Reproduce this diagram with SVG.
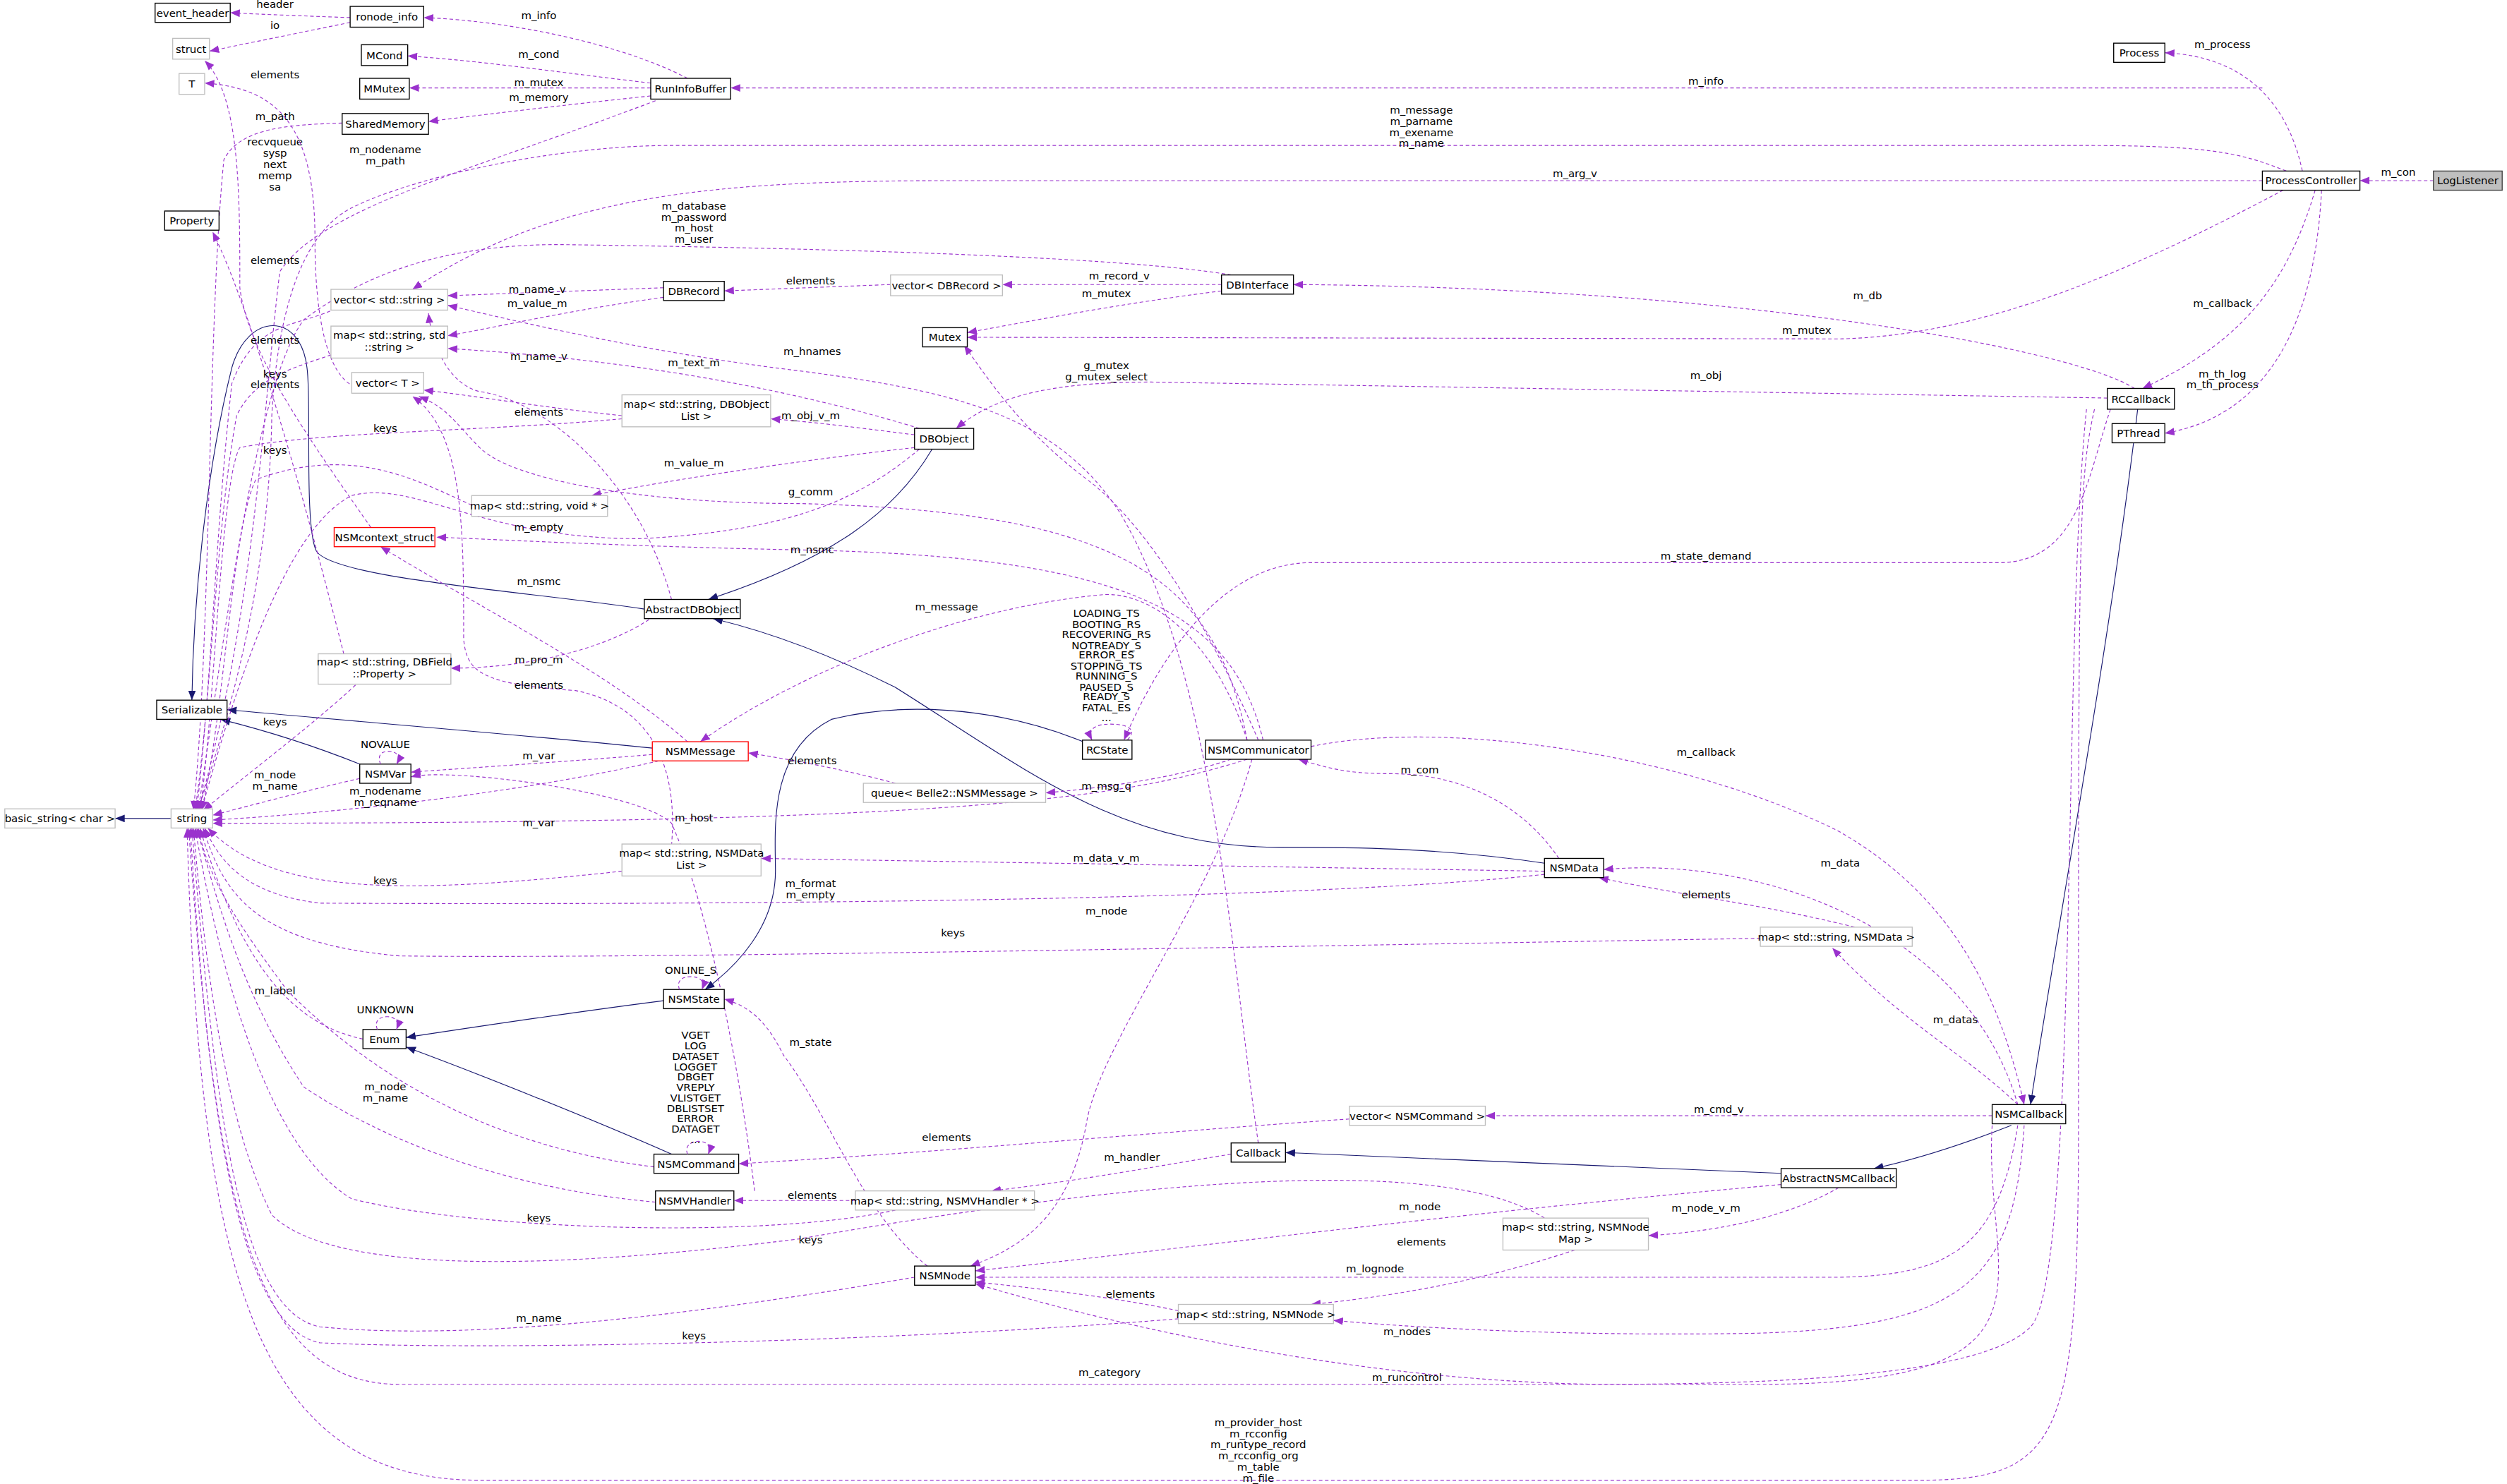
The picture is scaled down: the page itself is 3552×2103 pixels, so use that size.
<svg xmlns="http://www.w3.org/2000/svg" width="3552" height="2103" viewBox="0 0 3552 2103">
<style>
rect{fill:#fff;stroke:#000;stroke-width:0.6}
.g rect{stroke:#bfbfbf}
.r rect{stroke:#f00}
.f rect{fill:#bfbfbf;stroke:#404040}
text{font-family:"DejaVu Sans","Liberation Sans",sans-serif;font-size:6.6px;text-anchor:middle;fill:#000}
.e path{fill:none;stroke:#9a32cd;stroke-width:0.5;stroke-dasharray:2.2,1.6;marker-end:url(#ap)}
.i path{fill:none;stroke:#191970;stroke-width:0.5;marker-end:url(#an)}
</style>
<defs>
<marker id="ap" markerUnits="userSpaceOnUse" markerWidth="6" markerHeight="5" refX="5" refY="2" orient="auto" viewBox="0 0 5 4"><path d="M0,0L5,2L0,4z" fill="#9a32cd"/></marker>
<marker id="an" markerUnits="userSpaceOnUse" markerWidth="6" markerHeight="5" refX="5" refY="2" orient="auto" viewBox="0 0 5 4"><path d="M0,0L5,2L0,4z" fill="#191970"/></marker>
</defs>
<rect x="0" y="0" width="3552" height="2103" style="fill:#fff;stroke:none"/>
<g transform="scale(2.2653)">
<g id="edges">
<g class="i">
<path d="M107,512 L72,512"/>
<path d="M403,381 C330,370 210,362 198,345 C190,330 195,250 192,230 C188,195 155,195 145,230 C130,290 121,370 120,438"/>
<path d="M583,281 C560,320 520,350 443,375"/>
<path d="M408,468 C330,460 230,452 142,444"/>
<path d="M225,478 C200,468 170,458 138,450"/>
<path d="M966,540 C900,530 840,530 800,530 C700,530 640,480 560,430 C520,410 480,395 446,387"/>
<path d="M415,626 C360,633 300,642 254,649"/>
<path d="M420,722 C370,700 300,672 254,655"/>
<path d="M680,465 C620,440 560,440 520,450 C480,470 485,520 485,545 C485,580 460,605 441,619"/>
<path d="M1114,734 C1000,730 900,725 804,721"/>
<path d="M1258,704 C1230,715 1200,725 1172,731"/>
<path d="M1337,256 C1320,400 1290,560 1270,691"/>
</g>
<g class="e">
<path d="M219,11 C190,10 165,9 144,8"/><text x="172" y="5">header</text>
<path d="M219,14 C190,20 160,26 131,32"/><text x="172" y="18">io</text>
<path d="M430,49 C390,28 320,13 265,11"/><text x="337" y="12">m_info</text>
<path d="M407,52 C340,44 300,38 255,35"/><text x="337" y="36">m_cond</text>
<path d="M407,55 L256,55"/><text x="337" y="54">m_mutex</text>
<path d="M407,60 C350,66 300,72 268,76"/><text x="337" y="63">m_memory</text>
<path d="M410,63 C300,105 200,130 175,170 C165,250 160,380 124,507"/><text x="241" y="96">m_nodename</text><text x="241" y="103">m_path</text>
<path d="M214,77 C180,78 150,80 140,100 C130,200 132,400 121,507"/><text x="172" y="75">m_path</text>
<path d="M232,330 C190,270 155,220 150,180 C150,120 150,60 128,38"/><text x="172" y="91">recvqueue</text><text x="172" y="98">sysp</text><text x="172" y="105">next</text><text x="172" y="112">memp</text><text x="172" y="119">sa</text>
<path d="M222,242 C205,235 197,200 197,150 C197,80 175,55 128,52"/><text x="172" y="49">elements</text>
<path d="M215,409 C195,330 160,200 133,145"/><text x="172" y="165">elements</text>
<path d="M210,193 C185,205 160,200 145,240 C135,330 132,430 123,507"/><text x="172" y="215">elements</text>
<path d="M207,222 C185,230 160,235 148,260 C135,330 132,440 122,507"/><text x="172" y="236">keys</text><text x="172" y="243">elements</text>
<path d="M389,262 C300,270 200,270 150,280 C138,300 134,450 125,507"/><text x="241" y="270">keys</text>
<path d="M295,316 C260,300 220,278 160,300 C145,330 140,450 126,507"/><text x="172" y="284">keys</text>
<path d="M225,426 C200,450 160,480 127,507"/><text x="172" y="454">keys</text>
<path d="M225,487 C190,495 160,503 133,510"/><text x="172" y="487">m_node</text><text x="172" y="494">m_name</text>
<path d="M412,476 C330,495 220,508 133,513"/><text x="241" y="497">m_nodename</text><text x="241" y="504">m_reqname</text>
<path d="M780,475 C700,500 600,515 133,515"/><text x="434" y="514">m_host</text>
<path d="M389,545 C250,560 170,560 130,518"/><text x="241" y="553">keys</text>
<path d="M966,547 C800,565 400,566 200,565 C160,560 140,545 128,518"/><text x="507" y="555">m_format</text><text x="507" y="562">m_empty</text>
<path d="M1101,587 C800,592 400,600 250,598 C160,590 140,560 127,518"/><text x="596" y="586">keys</text>
<path d="M227,650 C180,640 150,600 125,518"/><text x="172" y="622">m_label</text>
<path d="M409,730 C330,720 250,690 180,620 C150,580 130,550 124,518"/><text x="241" y="682">m_node</text><text x="241" y="689">m_name</text>
<path d="M410,752 C330,745 250,720 190,680 C150,620 135,560 123,518"/>
<path d="M560,757 C480,775 300,770 220,750 C170,720 140,620 122,518"/><text x="337" y="764">keys</text>
<path d="M966,762 C900,720 700,740 500,775 C300,800 200,790 170,760 C140,700 128,600 121,518"/><text x="507" y="778">keys</text>
<path d="M572,799 C450,820 300,840 200,830 C150,820 135,700 120,518"/><text x="337" y="827">m_name</text>
<path d="M737,825 C550,840 300,845 200,840 C150,830 130,700 119,518"/><text x="434" y="838">keys</text>
<path d="M1246,704 C1240,800 1300,866 1100,866 L250,866 C160,866 135,760 118,518"/><text x="694" y="861">m_category</text>
<path d="M1310,256 C1300,300 1300,330 1300,700 C1300,900 1290,926 1200,926 L300,926 C160,926 125,800 117,518"/><text x="787" y="892">m_provider_host</text><text x="787" y="899">m_rcconfig</text><text x="787" y="906">m_runtype_record</text><text x="787" y="913">m_rcconfig_org</text><text x="787" y="920">m_table</text><text x="787" y="927">m_file</text>
<path d="M770,172 C700,160 500,155 350,153 C280,153 230,170 190,200 C160,240 140,400 124,507"/><text x="434" y="131">m_database</text><text x="434" y="138">m_password</text><text x="434" y="145">m_host</text><text x="434" y="152">m_user</text>
<path d="M1430,107 C1400,95 1380,91 1300,91 L420,91 C350,91 260,110 220,130 C200,140 175,170 170,260 C168,380 135,470 124,507"/><text x="889" y="71">m_message</text><text x="889" y="78">m_parname</text><text x="889" y="85">m_exename</text><text x="889" y="92">m_name</text>
<path d="M1415,113 L600,113 C450,113 350,120 258,181"/><text x="985" y="111">m_arg_v</text>
<path d="M1415,55 L457,55"/><text x="1067" y="53">m_info</text>
<path d="M1440,107 C1430,60 1400,35 1354,33"/><text x="1390" y="30">m_process</text>
<path d="M1448,119 C1430,180 1400,215 1340,243"/><text x="1390" y="192">m_callback</text>
<path d="M1452,119 C1448,200 1420,260 1354,271"/><text x="1390" y="236">m_th_log</text><text x="1390" y="243">m_th_process</text>
<path d="M1522,113 L1476,113"/><text x="1500" y="110">m_con</text>
<path d="M1428,119 C1350,160 1250,210 1150,212 L605,211"/><text x="1130" y="209">m_mutex</text>
<path d="M1335,243 C1300,220 1100,180 809,178"/><text x="1168" y="187">m_db</text>
<path d="M764,178 L627,178"/><text x="700" y="175">m_record_v</text>
<path d="M764,182 C700,190 650,200 605,208"/><text x="692" y="186">m_mutex</text>
<path d="M557,178 L453,182"/><text x="507" y="178">elements</text>
<path d="M415,180 L280,185"/><text x="336" y="183">m_name_v</text>
<path d="M415,186 C350,195 310,205 280,210"/><text x="336" y="192">m_value_m</text>
<path d="M420,375 C400,300 340,250 300,245 C280,240 270,215 268,196"/><text x="337" y="225">m_name_v</text>
<path d="M575,268 C500,245 400,225 280,218"/><text x="434" y="229">m_text_m</text>
<path d="M572,272 C540,268 510,264 482,262"/><text x="507" y="262">m_obj_v_m</text>
<path d="M572,280 C500,288 420,300 370,310"/><text x="434" y="292">m_value_m</text>
<path d="M575,281 C540,310 500,332 400,337 C300,337 260,300 220,310 C180,330 150,420 126,507"/><text x="337" y="332">m_empty</text>
<path d="M1318,249 L720,239 C650,239 620,250 598,268"/><text x="1067" y="237">m_obj</text>
<path d="M787,463 C760,400 720,330 680,300 C640,270 620,240 603,216"/><text x="692" y="231">g_mutex</text><text x="692" y="238">g_mutex_select</text>
<path d="M780,463 C760,360 700,320 500,315 C400,315 320,300 300,280 C285,265 280,255 262,248"/><text x="507" y="310">g_comm</text>
<path d="M389,260 C340,255 300,248 265,244"/><text x="337" y="260">elements</text>
<path d="M420,529 C425,470 400,440 360,432 C300,428 292,420 290,400 C290,330 290,270 258,248"/><text x="337" y="431">elements</text>
<path d="M420,375 C400,400 340,418 282,418"/><text x="337" y="415">m_pro_m</text>
<path d="M790,463 C770,380 700,348 500,344 C400,342 320,338 273,336"/><text x="508" y="346">m_nsmc</text>
<path d="M430,464 C380,420 300,380 238,342"/><text x="337" y="366">m_nsmc</text>
<path d="M1320,256 C1305,300 1300,352 1250,352 L820,352 C770,352 730,400 703,463"/><text x="1067" y="350">m_state_demand</text>
<path d="M705,463 C712,456 705,453 694,453 C684,453 680,457 683,463"/><text x="692" y="386">LOADING_TS</text><text x="692" y="393">BOOTING_RS</text><text x="692" y="399">RECOVERING_RS</text><text x="692" y="406">NOTREADY_S</text><text x="692" y="412">ERROR_ES</text><text x="692" y="419">STOPPING_TS</text><text x="692" y="425">RUNNING_S</text><text x="692" y="432">PAUSED_S</text><text x="692" y="438">READY_S</text><text x="692" y="445">FATAL_ES</text><text x="692" y="451">...</text>
<path d="M780,463 C760,400 720,370 690,372 C600,380 500,420 438,464"/><text x="592" y="382">m_message</text>
<path d="M770,475 C740,485 700,492 654,496"/><text x="692" y="494">m_msg_q</text>
<path d="M560,490 C530,482 500,476 468,471"/><text x="508" y="478">elements</text>
<path d="M408,472 C360,476 300,480 257,483"/><text x="337" y="475">m_var</text>
<path d="M472,745 C460,650 440,560 420,515 C400,495 280,480 257,486"/><text x="337" y="517">m_var</text>
<path d="M783,475 C760,560 690,650 680,700 C670,760 640,780 607,792"/><text x="692" y="572">m_node</text>
<path d="M975,537 C950,500 910,484 870,484 C840,484 830,480 812,475"/><text x="888" y="484">m_com</text>
<path d="M820,467 C900,450 1050,470 1150,520 C1220,560 1250,620 1266,691"/><text x="1067" y="473">m_callback</text>
<path d="M1262,691 C1230,580 1100,535 1003,544"/><text x="1151" y="542">m_data</text>
<path d="M1160,580 C1100,565 1050,560 1000,549"/><text x="1067" y="562">elements</text>
<path d="M1262,691 C1230,660 1190,640 1146,593"/><text x="1223" y="640">m_datas</text>
<path d="M966,545 L476,537"/><text x="692" y="539">m_data_v_m</text>
<path d="M580,792 C540,760 520,700 490,660 C480,640 470,630 453,625"/><text x="507" y="654">m_state</text>
<path d="M1246,698 L929,698"/><text x="1075" y="696">m_cmd_v</text>
<path d="M844,700 C700,710 600,720 462,728"/><text x="592" y="714">elements</text>
<path d="M535,751 L459,751"/><text x="508" y="750">elements</text>
<path d="M770,722 C720,730 680,738 620,745"/><text x="708" y="726">m_handler</text>
<path d="M787,715 C770,600 760,420 700,320 C660,260 600,245 500,232 C400,220 320,200 280,191"/><text x="508" y="222">m_hnames</text>
<path d="M1114,741 C900,760 750,780 610,795"/><text x="888" y="757">m_node</text>
<path d="M1150,743 C1120,760 1080,770 1031,773"/><text x="1067" y="758">m_node_v_m</text>
<path d="M985,782 C930,800 880,810 820,816"/><text x="889" y="779">elements</text>
<path d="M1262,704 C1250,780 1220,798 1150,799 L610,799"/><text x="860" y="796">m_lognode</text>
<path d="M737,820 C700,812 650,806 610,802"/><text x="707" y="812">elements</text>
<path d="M1266,704 C1260,800 1230,830 1100,834 C1000,836 900,832 834,826"/><text x="880" y="835">m_nodes</text>
<path d="M1305,256 C1290,400 1300,800 1270,830 C1240,862 1100,866 1000,866 C850,864 700,830 610,803"/><text x="880" y="864">m_runcontrol</text>
</g>
</g>
<g id="n_event_header"><rect x="97" y="2" width="47" height="12"/><text x="120.5" y="10.4">event_header</text></g>
<g id="n_ronode_info"><rect x="219" y="4" width="46" height="13"/><text x="242" y="12.9">ronode_info</text></g>
<g id="n_struct" class="g"><rect x="108" y="24" width="23" height="13"/><text x="119.5" y="32.9">struct</text></g>
<g id="n_T" class="g"><rect x="112" y="46" width="16" height="13"/><text x="120" y="54.9">T</text></g>
<g id="n_MCond"><rect x="226" y="28" width="29" height="13"/><text x="240.5" y="36.9">MCond</text></g>
<g id="n_MMutex"><rect x="225" y="49" width="31" height="13"/><text x="240.5" y="57.9">MMutex</text></g>
<g id="n_SharedMemory"><rect x="214" y="71" width="54" height="13"/><text x="241" y="79.9">SharedMemory</text></g>
<g id="n_RunInfoBuffer"><rect x="407" y="49" width="50" height="13"/><text x="432" y="57.9">RunInfoBuffer</text></g>
<g id="n_Property"><rect x="103" y="132" width="34" height="12"/><text x="120" y="140.4">Property</text></g>
<g id="n_vector_string" class="g"><rect x="207" y="181" width="73" height="13"/><text x="243.5" y="189.9">vector&lt; std::string &gt;</text></g>
<g id="n_map_string_string" class="g"><rect x="207" y="204" width="73" height="20"/><text x="243.5" y="212">map&lt; std::string, std</text><text x="243.5" y="219.5">::string &gt;</text></g>
<g id="n_vector_T" class="g"><rect x="220" y="233" width="45" height="13"/><text x="242.5" y="241.9">vector&lt; T &gt;</text></g>
<g id="n_DBRecord"><rect x="415" y="176" width="38" height="12"/><text x="434" y="184.4">DBRecord</text></g>
<g id="n_vector_DBRecord" class="g"><rect x="557" y="172" width="70" height="13"/><text x="592" y="180.9">vector&lt; DBRecord &gt;</text></g>
<g id="n_DBInterface"><rect x="764" y="172" width="45" height="12"/><text x="786.5" y="180.4">DBInterface</text></g>
<g id="n_Mutex"><rect x="577" y="205" width="28" height="12"/><text x="591" y="213.4">Mutex</text></g>
<g id="n_map_DBObjectList" class="g"><rect x="389" y="247" width="93" height="20"/><text x="435.5" y="255">map&lt; std::string, DBObject</text><text x="435.5" y="262.5">List &gt;</text></g>
<g id="n_DBObject"><rect x="572" y="268" width="37" height="13"/><text x="590.5" y="276.9">DBObject</text></g>
<g id="n_map_void" class="g"><rect x="295" y="310" width="85" height="13"/><text x="337.5" y="318.9">map&lt; std::string, void * &gt;</text></g>
<g id="n_NSMcontext_struct" class="r"><rect x="209" y="330" width="63" height="12"/><text x="240.5" y="338.4">NSMcontext_struct</text></g>
<g id="n_AbstractDBObject"><rect x="403" y="375" width="60" height="12"/><text x="433" y="383.4">AbstractDBObject</text></g>
<g id="n_map_DBField" class="g"><rect x="199" y="409" width="83" height="19"/><text x="240.5" y="416.5">map&lt; std::string, DBField</text><text x="240.5" y="424">::Property &gt;</text></g>
<g id="n_Serializable"><rect x="98" y="438" width="44" height="12"/><text x="120" y="446.4">Serializable</text></g>
<g id="n_NSMVar"><rect x="225" y="478" width="32" height="12"/><text x="241" y="486.4">NSMVar</text><path d="M238,478 C236,473 238,470 243,470 C248,470 251,473 248,478" style="fill:none;stroke:#9a32cd;stroke-width:0.5;stroke-dasharray:2.2,1.6" marker-end="url(#ap)"/><text x="241" y="468">NOVALUE</text></g>
<g id="n_string" class="g"><rect x="107" y="506" width="26" height="12"/><text x="120" y="514.4">string</text></g>
<g id="n_basic_string" class="g"><rect x="3" y="506" width="69" height="12"/><text x="37.5" y="514.4">basic_string&lt; char &gt;</text></g>
<g id="n_NSMMessage" class="r"><rect x="408" y="464" width="60" height="12"/><text x="438" y="472.4">NSMMessage</text></g>
<g id="n_RCState"><rect x="677" y="463" width="31" height="12"/><text x="692.5" y="471.4">RCState</text></g>
<g id="n_NSMCommunicator"><rect x="754" y="463" width="66" height="12"/><text x="787" y="471.4">NSMCommunicator</text></g>
<g id="n_queue_NSMMessage" class="g"><rect x="540" y="490" width="114" height="12"/><text x="597" y="498.4">queue&lt; Belle2::NSMMessage &gt;</text></g>
<g id="n_map_NSMDataList" class="g"><rect x="389" y="528" width="87" height="20"/><text x="432.5" y="536">map&lt; std::string, NSMData</text><text x="432.5" y="543.5">List &gt;</text></g>
<g id="n_NSMData"><rect x="966" y="537" width="37" height="12"/><text x="984.5" y="545.4">NSMData</text></g>
<g id="n_map_NSMData" class="g"><rect x="1101" y="580" width="95" height="12"/><text x="1148.5" y="588.4">map&lt; std::string, NSMData &gt;</text></g>
<g id="n_NSMState"><rect x="415" y="619" width="38" height="12"/><text x="434" y="627.4">NSMState</text><path d="M425,619 C423,614 426,611 432,611 C438,611 441,614 439,619" style="fill:none;stroke:#9a32cd;stroke-width:0.5;stroke-dasharray:2.2,1.6" marker-end="url(#ap)"/><text x="432" y="609">ONLINE_S</text></g>
<g id="n_Enum"><rect x="227" y="644" width="27" height="12"/><text x="240.5" y="652.4">Enum</text><path d="M236,644 C234,639 237,636 242,636 C247,636 250,639 248,644" style="fill:none;stroke:#9a32cd;stroke-width:0.5;stroke-dasharray:2.2,1.6" marker-end="url(#ap)"/><text x="241" y="634">UNKNOWN</text></g>
<g id="n_NSMCommand"><rect x="409" y="722" width="53" height="12"/><text x="435.5" y="730.4">NSMCommand</text><path d="M430,722 C428,717 432,714 437,714 C442,714 445,717 443,722" style="fill:none;stroke:#9a32cd;stroke-width:0.5;stroke-dasharray:2.2,1.6" marker-end="url(#ap)"/><text x="435" y="650">VGET</text><text x="435" y="656.5">LOG</text><text x="435" y="663">DATASET</text><text x="435" y="669.5">LOGGET</text><text x="435" y="676">DBGET</text><text x="435" y="682.5">VREPLY</text><text x="435" y="689">VLISTGET</text><text x="435" y="695.5">DBLISTSET</text><text x="435" y="702">ERROR</text><text x="435" y="708.5">DATAGET</text><text x="435" y="715">...</text></g>
<g id="n_vector_NSMCommand" class="g"><rect x="844" y="692" width="85" height="12"/><text x="886.5" y="700.4">vector&lt; NSMCommand &gt;</text></g>
<g id="n_Callback"><rect x="770" y="715" width="34" height="12"/><text x="787" y="723.4">Callback</text></g>
<g id="n_AbstractNSMCallback"><rect x="1114" y="731" width="72" height="12"/><text x="1150" y="739.4">AbstractNSMCallback</text></g>
<g id="n_NSMCallback"><rect x="1246" y="691" width="46" height="12"/><text x="1269" y="699.4">NSMCallback</text></g>
<g id="n_NSMVHandler"><rect x="410" y="745" width="49" height="12"/><text x="434.5" y="753.4">NSMVHandler</text></g>
<g id="n_map_NSMVHandler" class="g"><rect x="535" y="745" width="112" height="12"/><text x="591" y="753.4">map&lt; std::string, NSMVHandler * &gt;</text></g>
<g id="n_map_NSMNodeMap" class="g"><rect x="940" y="762" width="91" height="20"/><text x="985.5" y="770">map&lt; std::string, NSMNode</text><text x="985.5" y="777.5">Map &gt;</text></g>
<g id="n_NSMNode"><rect x="572" y="792" width="38" height="12"/><text x="591" y="800.4">NSMNode</text></g>
<g id="n_map_NSMNode" class="g"><rect x="737" y="816" width="97" height="12"/><text x="785.5" y="824.4">map&lt; std::string, NSMNode &gt;</text></g>
<g id="n_RCCallback"><rect x="1318" y="243" width="42" height="13"/><text x="1339" y="251.9">RCCallback</text></g>
<g id="n_PThread"><rect x="1321" y="265" width="33" height="12"/><text x="1337.5" y="273.4">PThread</text></g>
<g id="n_ProcessController"><rect x="1415" y="107" width="61" height="12"/><text x="1445.5" y="115.4">ProcessController</text></g>
<g id="n_LogListener" class="f"><rect x="1522" y="107" width="43" height="12"/><text x="1543.5" y="115.4">LogListener</text></g>
<g id="n_Process"><rect x="1322" y="27" width="32" height="12"/><text x="1338" y="35.4">Process</text></g>
</g>
</svg>
